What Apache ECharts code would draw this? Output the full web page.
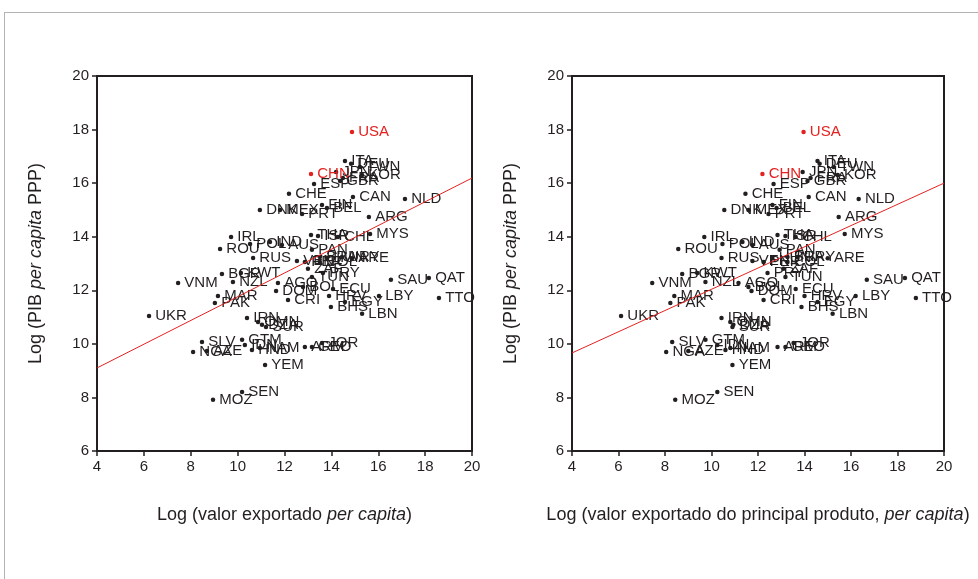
<!DOCTYPE html>
<html>
<head>
<meta charset="utf-8">
<script src="https://cdn.jsdelivr.net/npm/echarts@6/dist/echarts.min.js"></script>
<style>
  html, body { margin: 0; padding: 0; background: #fff; }
  #frame { position: absolute; left: 4px; top: 12px; width: 980px; height: 580px;
           border-top: 1px solid #b4b4b4; border-left: 1px solid #b4b4b4; }
  #chart { position: absolute; left: 0; top: 0; width: 978px; height: 579px; }
</style>
</head>
<body>
<div id="frame"></div>
<div id="chart"></div>
<script>
// country codes, same order in every array below
var countries = ['USA','CHN','ITA','DEU','TWN','JPN','KOR','FRA','GBR','ESP','CHE','CAN','NLD','DNK','MEX','FIN','BEL','PRT','ARG','MYS',
  'THA','ISR','CHL','BRA','IRL','ROU','POL','IND','AUS','RUS','VEN','PAN','URY','ARE','HUN','COL','ZAF','PER','TUN','PRY',
  'KWT','BGR','NZL','VNM','AGO','BOL','DOM','ECU','CRI','HRV','EGY','LBY','SAU','QAT','TTO','BHS','LBN','MAR','PAK','UKR',
  'IRN','OMN','DZA','SUR','SLV','GTM','NGA','AZE','IDN','HND','NAM','YEM','SEN','MOZ','ARM','GEO','JOR'];

// Log (PIB per capita PPP)
var logPib = [17.91,16.34,16.83,16.72,16.60,16.42,16.30,16.19,16.08,15.97,15.60,15.48,15.41,15.00,15.00,15.18,15.07,14.85,14.74,14.10,
  14.06,14.03,13.99,13.24,13.99,13.54,13.73,13.80,13.69,13.21,13.09,13.51,13.24,13.20,13.21,13.06,12.80,13.06,12.50,12.65,
  12.65,12.61,12.31,12.27,12.27,12.12,11.97,12.05,11.64,11.79,11.56,11.79,12.39,12.46,11.71,11.38,11.12,11.79,11.53,11.04,
  10.97,10.82,10.71,10.63,10.07,10.15,9.70,9.73,9.96,9.77,9.85,9.21,8.20,7.91,9.88,9.88,10.03];

// Log (valor exportado per capita)
var logExport = [14.88,13.13,14.58,14.84,15.22,14.20,15.31,14.49,14.37,13.26,12.19,14.92,17.14,10.95,11.81,13.60,13.81,12.75,15.60,15.65,
  13.13,13.43,14.28,13.51,9.72,9.25,10.53,11.38,11.89,10.66,12.53,13.17,14.45,14.88,13.81,13.51,13.00,12.87,13.17,13.64,
  10.14,9.33,9.80,7.46,11.72,12.79,11.64,14.07,12.15,13.90,14.58,16.03,16.54,18.16,18.59,13.98,15.31,9.16,9.03,6.22,
  10.40,10.87,11.04,11.21,8.48,10.19,8.10,8.69,10.31,10.61,10.95,11.17,10.19,8.95,12.87,13.17,13.60];

// Log (valor exportado do principal produto per capita)
var logMainProduct = [13.96,12.19,14.56,14.65,15.25,13.92,15.43,14.26,14.13,12.67,11.46,14.18,16.33,10.55,11.59,12.62,12.80,12.45,15.47,15.73,
  12.84,13.18,13.62,13.27,9.69,8.57,10.47,11.33,11.76,10.43,11.76,12.93,13.70,15.00,12.62,13.27,13.10,12.24,13.18,12.41,
  9.39,8.74,9.74,7.45,11.16,11.59,11.72,13.62,12.24,14.00,14.56,16.20,16.68,18.32,18.79,13.87,15.21,8.40,8.23,6.11,
  10.43,10.81,10.94,10.90,8.31,9.74,8.05,9.00,10.25,10.60,10.81,10.90,10.25,8.44,12.84,13.18,13.53];

var highlight = ['USA', 'CHN'];

// fitted lines, ends read at x = 4 and x = 20
var fitLeft = [[4, 9.10], [20, 16.19]];
var fitRight = [[4, 9.66], [20, 16.00]];

var ink = '#231f20';
var red = '#e3211f';
var font = 'Liberation Sans, Arial, sans-serif';

function points(xs) {
  return countries.map(function (c, i) {
    var hot = highlight.indexOf(c) >= 0;
    return {
      name: c,
      value: [xs[i], logPib[i]],
      itemStyle: { color: hot ? red : ink, opacity: 1 },
      label: { color: hot ? red : ink }
    };
  });
}

var titleStyle = { color: ink, fontSize: 18, fontFamily: font,
  rich: { i: { fontStyle: 'italic', fontSize: 18, color: ink, fontFamily: font } } };

function xAxis(idx, title) {
  return {
    gridIndex: idx, type: 'value', min: 4, max: 20, interval: 2,
    name: title, nameLocation: 'middle', nameGap: 55,
    nameTextStyle: titleStyle,
    axisLine: { onZero: false, lineStyle: { color: ink, width: 2 } },
    axisTick: { length: 5, lineStyle: { color: ink, width: 1.5 } },
    axisLabel: { color: ink, fontSize: 15, fontFamily: font, margin: 8 },
    splitLine: { show: false }
  };
}

function yAxis(idx) {
  return {
    gridIndex: idx, type: 'value', min: 6, max: 20, interval: 2,
    name: 'Log (PIB {i|per capita} PPP)', nameLocation: 'middle', nameGap: 52,
    nameTextStyle: titleStyle,
    axisLine: { onZero: false, lineStyle: { color: ink, width: 2 } },
    axisTick: { length: 5, lineStyle: { color: ink, width: 1.5 } },
    axisLabel: { color: ink, fontSize: 15, fontFamily: font, margin: 8 },
    splitLine: { show: false }
  };
}

function scatter(idx, xs) {
  return {
    type: 'scatter', xAxisIndex: idx, yAxisIndex: idx,
    data: points(xs), symbolSize: 4.5, silent: true,
    itemStyle: { opacity: 1 },
    label: { show: true, position: 'right', distance: 4, formatter: '{b}',
      fontSize: 15, fontFamily: font }
  };
}

function fit(idx, data) {
  return {
    type: 'line', xAxisIndex: idx, yAxisIndex: idx, data: data,
    symbol: 'none', silent: true, lineStyle: { color: red, width: 1 }
  };
}

var chart = echarts.init(document.getElementById('chart'));
chart.setOption({
  animation: false,
  grid: [
    { left: 97, top: 76, width: 375, height: 375, show: true, borderColor: ink, borderWidth: 2 },
    { left: 572, top: 76, width: 372, height: 375, show: true, borderColor: ink, borderWidth: 2 }
  ],
  xAxis: [
    xAxis(0, 'Log (valor exportado {i|per capita})'),
    xAxis(1, 'Log (valor exportado do principal produto, {i|per capita})')
  ],
  yAxis: [yAxis(0), yAxis(1)],
  series: [
    fit(0, fitLeft),
    fit(1, fitRight),
    scatter(0, logExport),
    scatter(1, logMainProduct)
  ]
});
</script>
</body>
</html>
